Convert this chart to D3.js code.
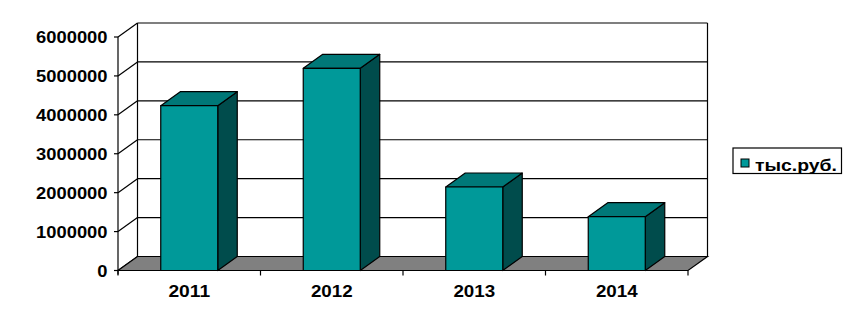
<!DOCTYPE html>
<html>
<head>
<meta charset="utf-8">
<script src="https://cdn.jsdelivr.net/npm/d3@7"></script>
<style>
  body { margin: 0; background: #fff; }
  text { font-family: "Liberation Sans", Arial, sans-serif; font-weight: bold; fill: #000; }
</style>
</head>
<body>
<div id="chart"></div>
<script>
// Data
const years = ['2011', '2012', '2013', '2014'];
const values = [4235000, 5195000, 2145000, 1382000];
const yTicks = [0, 1000000, 2000000, 3000000, 4000000, 5000000, 6000000];
const seriesName = 'тыс.руб.';

const WIDTH = 854, HEIGHT = 328;
const DEPTH = { dx: 19.5, dy: -14 };
const COLORS = { front: '#009999', top: '#007878', side: '#004c4c', floor: '#808080' };

const svg = d3.select('#chart').append('svg')
    .attr('width', WIDTH)
    .attr('height', HEIGHT);

const xScale = d3.scaleBand()
    .domain(years)
    .range([118, 688])
    .paddingInner(0.6)
    .paddingOuter(0.3);

const yScale = d3.scaleLinear()
    .domain([0, 6000000])
    .range([270.5, 37]);

const x0 = 118, x1 = 688;
const y0 = yScale(0);

// back wall + left wall lines
const walls = svg.append('g').attr('stroke', '#000').attr('fill', 'none').attr('stroke-width', 1.2);

// floor
svg.append('polygon')
    .attr('points', [
      [x0, y0], [x0 + DEPTH.dx, y0 + DEPTH.dy],
      [x1 + DEPTH.dx, y0 + DEPTH.dy], [x1, y0]
    ].map(p => p.join(',')).join(' '))
    .attr('fill', COLORS.floor)
    .attr('stroke', '#000')
    .attr('stroke-width', 1.2);

yTicks.forEach(v => {
  const y = yScale(v);
  if (v > 0) {
    walls.append('line')
        .attr('x1', x0 + DEPTH.dx).attr('x2', x1 + DEPTH.dx)
        .attr('y1', y + DEPTH.dy).attr('y2', y + DEPTH.dy);
  }
  walls.append('line')
      .attr('x1', x0).attr('y1', y)
      .attr('x2', x0 + DEPTH.dx).attr('y2', y + DEPTH.dy);
});

walls.append('line')
    .attr('x1', x0 + DEPTH.dx).attr('x2', x0 + DEPTH.dx)
    .attr('y1', yScale(6000000) + DEPTH.dy).attr('y2', y0 + DEPTH.dy);
walls.append('line')
    .attr('x1', x1 + DEPTH.dx).attr('x2', x1 + DEPTH.dx)
    .attr('y1', yScale(6000000) + DEPTH.dy).attr('y2', y0 + DEPTH.dy);

// front value axis
const axis = svg.append('g').attr('stroke', '#000').attr('stroke-width', 1.2);
axis.append('line')
    .attr('x1', x0).attr('x2', x0)
    .attr('y1', yScale(6000000)).attr('y2', y0 + 4);
yTicks.forEach(v => {
  axis.append('line')
      .attr('x1', x0 - 4).attr('x2', x0)
      .attr('y1', yScale(v)).attr('y2', yScale(v));
});
svg.append('g').selectAll('text')
    .data(yTicks)
    .join('text')
    .attr('x', 107.5)
    .attr('y', d => yScale(d) + 6)
    .attr('text-anchor', 'end')
    .attr('font-size', 16)
    .attr('textLength', d => String(d).length * 10.2)
    .attr('lengthAdjust', 'spacingAndGlyphs')
    .text(d => d);

// category ticks
const step = xScale.step();
d3.range(years.length + 1).forEach(i => {
  axis.append('line')
      .attr('x1', x0 + i * step).attr('x2', x0 + i * step)
      .attr('y1', y0).attr('y2', y0 + 5);
});

svg.append('g').selectAll('text')
    .data(years)
    .join('text')
    .attr('x', d => x0 + years.indexOf(d) * step + step / 2)
    .attr('y', 296.7)
    .attr('text-anchor', 'middle')
    .attr('font-size', 16)
    .attr('textLength', 41.7)
    .attr('lengthAdjust', 'spacingAndGlyphs')
    .text(d => d);

// bars
const bars = svg.append('g').selectAll('g')
    .data(years.map((y, i) => ({ year: y, value: values[i] })))
    .join('g')
    .attr('stroke', '#000')
    .attr('stroke-width', 1.2)
    .attr('stroke-linejoin', 'round');

bars.each(function (d) {
  const g = d3.select(this);
  const bx = xScale(d.year), bw = xScale.bandwidth();
  const top = yScale(d.value);
  const pts = arr => arr.map(p => p.join(',')).join(' ');
  g.append('polygon')
      .attr('fill', COLORS.side)
      .attr('points', pts([[bx + bw, top], [bx + bw + DEPTH.dx, top + DEPTH.dy],
        [bx + bw + DEPTH.dx, y0 + DEPTH.dy], [bx + bw, y0]]));
  g.append('polygon')
      .attr('fill', COLORS.top)
      .attr('points', pts([[bx, top], [bx + DEPTH.dx, top + DEPTH.dy],
        [bx + bw + DEPTH.dx, top + DEPTH.dy], [bx + bw, top]]));
  g.append('rect')
      .attr('fill', COLORS.front)
      .attr('x', bx).attr('y', top)
      .attr('width', bw).attr('height', y0 - top);
});

// legend
const legend = svg.append('g');
legend.append('rect')
    .attr('x', 733).attr('y', 148)
    .attr('width', 108.5).attr('height', 25.5)
    .attr('fill', '#fff').attr('stroke', '#000').attr('stroke-width', 1.2);
legend.append('rect')
    .attr('x', 741).attr('y', 159)
    .attr('width', 8).attr('height', 8)
    .attr('fill', COLORS.front).attr('stroke', '#000').attr('stroke-width', 1);
legend.append('text')
    .attr('x', 755).attr('y', 171)
    .attr('font-size', 16)
    .attr('textLength', 82)
    .attr('lengthAdjust', 'spacingAndGlyphs')
    .text(seriesName);
</script>
</body>
</html>
